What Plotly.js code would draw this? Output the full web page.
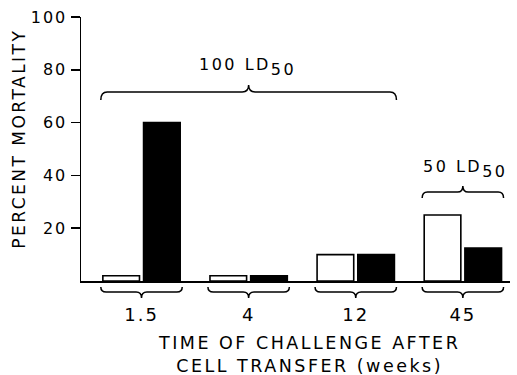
<!DOCTYPE html>
<html><head><meta charset="utf-8">
<script src="https://cdn.plot.ly/plotly-3.0.1.min.js"></script>
<style>
html,body{margin:0;padding:0;background:#fff;}
.annotation-text{letter-spacing:2.5px;}
.ytick text,.xtick text{letter-spacing:2px;}
</style></head><body>
<div id="chart" style="width:517px;height:375px;"></div>
<script>
// Data
const categories = ['1.5', '4', '12', '45'];       // time of challenge (weeks)
const openBars   = [2, 2, 10, 25];                 // percent mortality, open bars
const filledBars = [60, 2, 10, 12.5];              // percent mortality, filled bars
const yTickVals  = [20, 40, 60, 80, 100];
const yTickText  = ['20', '40', '60', '80', '100'];

const idx = categories.map((c, i) => i);
const BARGAP = 0.24;
const half = (1 - BARGAP) / 2;

const traces = [
  {type: 'bar', x: idx, y: openBars, name: 'open',
   marker: {color: '#ffffff', line: {color: '#000', width: 1.6}}, hoverinfo: 'skip'},
  {type: 'bar', x: idx, y: filledBars, name: 'filled',
   marker: {color: '#000000', line: {color: '#000', width: 1.6}}, hoverinfo: 'skip'}
];

function brace(x0, x1, xc, yEnd, yMid, yTip, r) {
  return `M${x0},${yEnd} Q${x0},${yMid} ${x0 + r},${yMid} L${xc - r},${yMid} ` +
         `Q${xc},${yMid} ${xc},${yTip} Q${xc},${yMid} ${xc + r},${yMid} ` +
         `L${x1 - r},${yMid} Q${x1},${yMid} ${x1},${yEnd}`;
}
const lineStyle = {color: '#000', width: 1.5};
const shapes = [];
// braces beneath each group
idx.forEach(i => {
  shapes.push({type: 'path', xref: 'x', yref: 'paper', line: lineStyle,
    path: brace(i - half, i + half, i, -0.023, -0.042, -0.064, 0.05)});
});
// 100 LD50 brace over first three groups
shapes.push({type: 'path', xref: 'x', yref: 'paper', line: lineStyle,
  path: brace(idx[0] - half, idx[2] + half, idx[1], 0.686, 0.716, 0.742, 0.06)});
// 50 LD50 brace over last group
shapes.push({type: 'path', xref: 'x', yref: 'paper', line: lineStyle,
  path: brace(idx[3] - half, idx[3] + half, idx[3], 0.314, 0.337, 0.360, 0.05)});

const SUB = '<sub style="font-size:16px !important">50</sub>';
const annotations = [
  {text: '100 LD' + SUB, xref: 'x', yref: 'paper', x: 0.99, y: 0.812,
   showarrow: false, xanchor: 'center', yanchor: 'middle', font: {size: 16}},
  {text: '50 LD' + SUB, xref: 'x', yref: 'paper', x: 3.02, y: 0.424,
   showarrow: false, xanchor: 'center', yanchor: 'middle', font: {size: 16}},
  {text: 'PERCENT MORTALITY', xref: 'paper', yref: 'paper', x: -0.145, y: 0.538,
   textangle: -90, showarrow: false, xanchor: 'center', yanchor: 'middle', font: {size: 17}},
  {text: 'TIME OF CHALLENGE AFTER<br>CELL TRANSFER (weeks)', xref: 'paper', yref: 'paper',
   x: 0.531, y: -0.280, showarrow: false, xanchor: 'center', yanchor: 'middle',
   align: 'center', font: {size: 17.5}}
];

const layout = {
  width: 517, height: 375,
  margin: {l: 81, r: 7, t: 17, b: 94, pad: 0},
  paper_bgcolor: '#fff', plot_bgcolor: '#fff',
  font: {family: 'DejaVu Sans', size: 16, color: '#000'},
  showlegend: false,
  barmode: 'group', bargap: BARGAP, bargroupgap: 0.1,
  xaxis: {range: [-0.565, 3.44], tickmode: 'array', tickvals: idx, ticktext: categories,
          ticks: '', showline: true, linecolor: '#000', linewidth: 1.5,
          showgrid: false, zeroline: false, tickfont: {size: 18}, ticklabelstandoff: 17},
  yaxis: {range: [0, 100], tickmode: 'array', tickvals: yTickVals, ticktext: yTickText,
          ticks: 'outside', ticklen: 9, tickwidth: 1.5, tickcolor: '#000',
          showline: true, linecolor: '#000', linewidth: 1.5,
          showgrid: false, zeroline: false, tickfont: {size: 16}},
  shapes: shapes,
  annotations: annotations
};

Plotly.newPlot('chart', traces, layout, {displayModeBar: false, staticPlot: true});
</script>
</body></html>
